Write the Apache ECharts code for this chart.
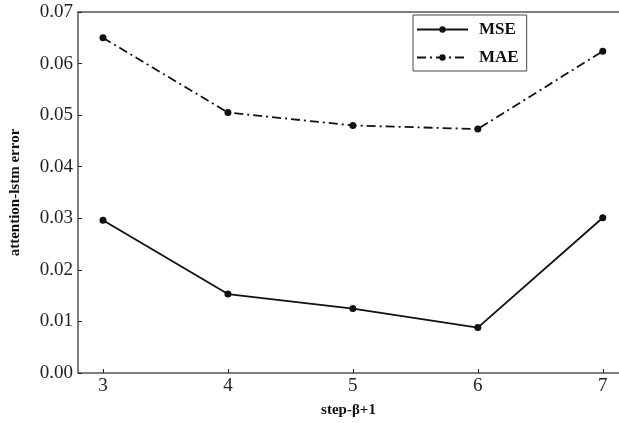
<!DOCTYPE html>
<html>
<head>
<meta charset="utf-8">
<script src="https://cdn.jsdelivr.net/npm/echarts@6/dist/echarts.min.js"></script>
<style>html,body{margin:0;padding:0;background:#fff;}#c{width:619px;height:423px;}</style>
</head>
<body>
<div id="c"></div>
<script>
var steps = [3, 4, 5, 6, 7];
var mse = [0.0296, 0.0153, 0.0125, 0.0088, 0.0301];
var mae = [0.0650, 0.0505, 0.0480, 0.0473, 0.0624];
var yTicks = [0.00, 0.01, 0.02, 0.03, 0.04, 0.05, 0.06, 0.07];

var chart = echarts.init(document.getElementById('c'));
var serif = '"Liberation Serif", "Times New Roman", serif';
var axisColor = '#555';
chart.setOption({
  animation: false,
  backgroundColor: '#fff',
  grid: {left: 77, right: 0, top: 12, bottom: 45},
  legend: {
    left: 413, top: 15, orient: 'vertical',
    borderColor: '#444', borderWidth: 1, padding: [6, 8, 5, 3],
    itemWidth: 51, itemHeight: 8, itemGap: 11,
    textStyle: {fontFamily: serif, fontWeight: 'bold', fontSize: 17, color: '#111', padding: [0, 0, 0, 6]},
    data: ['MSE', 'MAE']
  },
  xAxis: [{
    type: 'value', min: 2.8, max: 7.13,
    name: 'step-β+1', nameLocation: 'middle', nameGap: 30,
    nameTextStyle: {fontFamily: serif, fontWeight: 'bold', fontSize: 15, color: '#111'},
    axisLine: {show: true, lineStyle: {color: axisColor, width: 1.5}},
    axisTick: {show: true, inside: true, length: 4, customValues: steps, lineStyle: {color: '#222'}},
    axisLabel: {fontFamily: serif, fontSize: 19, color: '#222', margin: 4, customValues: steps},
    splitLine: {show: false}
  }, {
    type: 'value', position: 'top', min: 2.8, max: 7.13,
    axisLine: {show: true, lineStyle: {color: axisColor, width: 1.5}},
    axisTick: {show: false}, axisLabel: {show: false}, splitLine: {show: false}
  }],
  yAxis: {
    type: 'value', min: 0, max: 0.07, interval: 0.01,
    name: 'attention-lstm error', nameLocation: 'middle', nameGap: 55,
    nameTextStyle: {fontFamily: serif, fontWeight: 'bold', fontSize: 15, color: '#111'},
    axisLine: {show: true, lineStyle: {color: axisColor, width: 1.5}},
    axisTick: {show: true, inside: true, length: 4, customValues: yTicks, lineStyle: {color: '#222'}},
    axisLabel: {fontFamily: serif, fontSize: 19, color: '#222', margin: 5, customValues: yTicks,
      formatter: function (v) { return v.toFixed(2); }},
    splitLine: {show: false}
  },
  series: [{
    name: 'MSE', type: 'line',
    data: steps.map(function (s, i) { return [s, mse[i]]; }),
    symbol: 'circle', symbolSize: 7,
    lineStyle: {color: '#111', width: 1.8, type: 'solid'},
    itemStyle: {color: '#111'}
  }, {
    name: 'MAE', type: 'line',
    data: steps.map(function (s, i) { return [s, mae[i]]; }),
    symbol: 'circle', symbolSize: 7,
    lineStyle: {color: '#111', width: 1.8, type: [9, 4, 2, 4]},
    itemStyle: {color: '#111'}
  }]
});
</script>
</body>
</html>
